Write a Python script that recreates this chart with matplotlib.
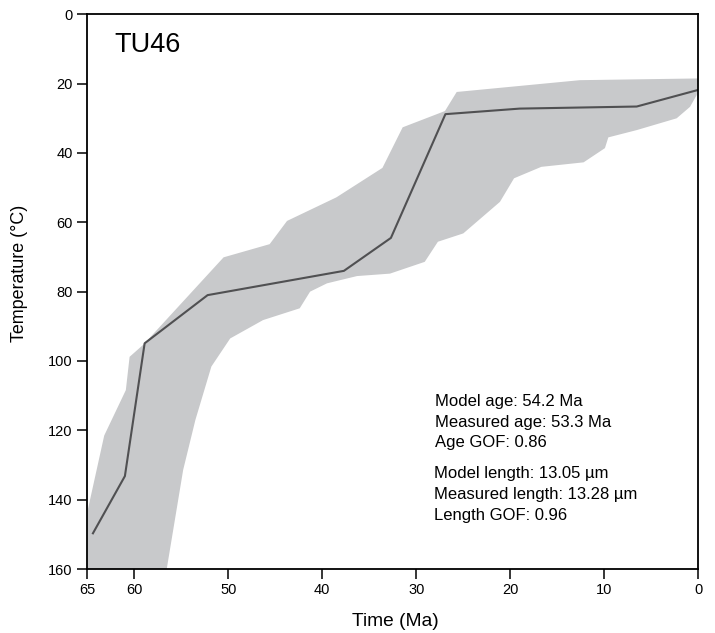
import matplotlib
matplotlib.use('Agg')
import matplotlib.pyplot as plt

plt.rcParams['font.family'] = ['Liberation Sans', 'DejaVu Sans']

# Best-fit thermal path (time in Ma, temperature in deg C)
path_time = [64.4, 61.0, 58.9, 52.2, 37.7, 32.7, 26.9, 19.0, 6.55, 0.0]
path_temp = [149.7, 133.2, 94.9, 81.0, 74.0, 64.5, 28.8, 27.2, 26.6, 21.8]

# Envelope of good paths: upper edge (cool side), then lower edge (hot side)
env_upper_time = [65.0, 65.0, 63.2, 60.9, 60.5, 59.0, 50.5, 45.6, 43.75, 38.5, 33.6, 31.45, 26.95, 25.7, 12.6, 0.0]
env_upper_temp = [160.0, 143.6, 121.5, 108.4, 98.8, 95.2, 70.1, 66.3, 59.6, 52.8, 44.3, 32.6, 27.9, 22.4, 19.0, 18.5]
env_lower_time = [0.17, 0.88, 2.3, 6.55, 9.57, 9.93, 12.2, 16.7, 19.6, 21.1, 25.0, 27.7, 29.1, 32.8, 36.3, 39.5, 41.3, 42.4, 46.3, 49.8, 51.8, 53.5, 54.8, 56.55]
env_lower_temp = [23.3, 26.7, 30.0, 33.4, 35.5, 38.6, 42.7, 44.0, 47.3, 54.1, 63.2, 65.6, 71.4, 74.8, 75.5, 77.6, 80.0, 84.8, 88.2, 93.5, 101.6, 117.0, 131.4, 160.0]

x_ticks = [65, 60, 50, 40, 30, 20, 10, 0]
y_ticks = [0, 20, 40, 60, 80, 100, 120, 140, 160]

sample = 'TU46'
stats_age = ['Model age: 54.2 Ma', 'Measured age: 53.3 Ma', 'Age GOF: 0.86']
stats_len = ['Model length: 13.05 \u00b5m', 'Measured length: 13.28 \u00b5m', 'Length GOF: 0.96']

fig = plt.figure(figsize=(7.15, 6.33), dpi=100)
ax = fig.add_axes([0.1221, 0.1011, 0.8545, 0.8763])

env_t = env_upper_time + env_lower_time
env_T = env_upper_temp + env_lower_temp
ax.fill(env_t, env_T, color='#c8c9cb', lw=0, zorder=1)
ax.plot(path_time, path_temp, color='#505052', lw=1.5, zorder=2)

ax.set_xlim(65, 0)
ax.set_ylim(160, 0)
ax.set_xticks(x_ticks)
ax.set_yticks(y_ticks)
ax.tick_params(direction='out', length=7, width=1.1, labelsize=10.5, pad=3, colors='black')
ax.tick_params(axis='y', pad=3.5)
for s in ax.spines.values():
    s.set_linewidth(1.3)

# axis titles placed by hand (the y title sits above the axes centre)
fig.text(395.4 / 715, 1 - 626 / 633, 'Time (Ma)', fontsize=13.8, ha='center', va='baseline')
fig.text(19.5 / 715, 1 - 273.5 / 633, 'Temperature (\u00b0C)', fontsize=12.9, rotation=90,
         ha='center', va='center')

ax.text(0.0437, 0.9326, sample, transform=ax.transAxes, fontsize=19.5, va='baseline', ha='left')

ys1 = [0.2939, 0.2566, 0.2194]
ys2 = [0.1633, 0.1255, 0.0883]
for txt, y in zip(stats_age, ys1):
    ax.text(0.569, y, txt, transform=ax.transAxes, fontsize=12, va='baseline', ha='left')
for txt, y in zip(stats_len, ys2):
    ax.text(0.568, y, txt, transform=ax.transAxes, fontsize=12, va='baseline', ha='left')

fig.savefig('out.png', dpi=100)
